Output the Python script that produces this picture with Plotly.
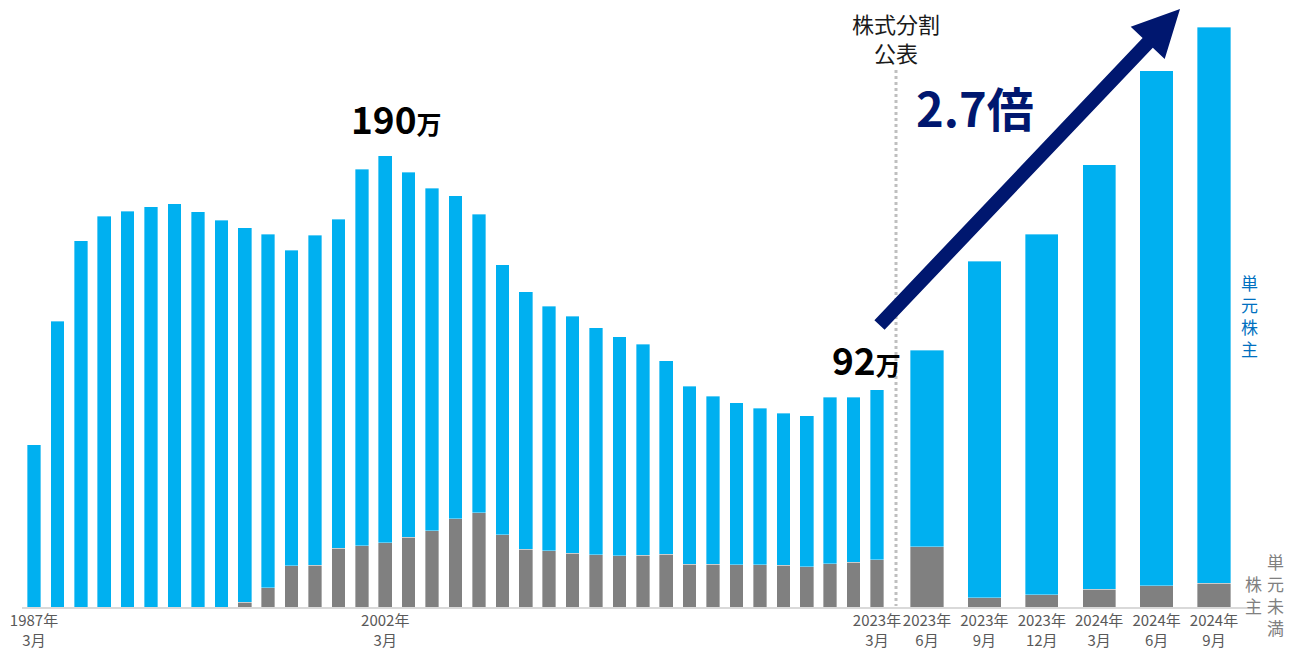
import plotly.graph_objects as go

# ---- data (values in 万人) ----
annual_labels = [f"{y}年3月" for y in range(1987, 2024)]
annual_unit = [68.3, 120.4, 154.1, 164.5, 166.6, 168.5, 169.8, 166.3, 162.9, 157.6,
               148.9, 133.0, 138.9, 138.5, 158.5, 162.9, 153.8, 144.2, 136.0, 125.6,
               113.7, 108.4, 103.1, 99.8, 95.6, 92.1, 88.8, 81.4, 75.0, 70.7,
               68.2, 65.9, 63.9, 63.5, 70.2, 69.5, 71.5]
annual_sub = [0, 0, 0, 0, 0, 0, 0, 0, 0, 2.0,
              8.1, 17.3, 17.6, 24.7, 25.8, 27.1, 29.3, 32.1, 37.2, 39.7,
              30.4, 24.3, 23.6, 22.7, 21.9, 21.6, 21.8, 22.2, 18.0, 18.0,
              17.8, 17.8, 17.6, 17.0, 18.2, 18.8, 19.9]

recent_labels = ["2023年6月", "2023年9月", "2023年12月", "2024年3月", "2024年6月", "2024年9月"]
recent_unit = [82.8, 141.7, 151.9, 178.6, 216.7, 234.1]
recent_sub = [25.4, 3.8, 5.1, 7.5, 9.0, 10.0]

annual_ticks = ["1987年3月", "2002年3月", "2023年3月"]
annual_ticktext = ["1987年<br>3月", "2002年<br>3月", "2023年<br>3月"]
recent_ticktext = ["2023年<br>6月", "2023年<br>9月", "2023年<br>12月", "2024年<br>3月", "2024年<br>6月", "2024年<br>9月"]

BLUE = "#00B0F0"
GRAY = "#808080"
NAVY = "#00176F"
FONT = "Noto Sans CJK JP"
W, H = 1311, 650

edge = dict(width=0.6, color="rgba(255,255,255,0.6)")

fig = go.Figure()
fig.add_trace(go.Bar(x=annual_labels, y=annual_sub, marker=dict(color=GRAY, line=edge),
                     xaxis="x", yaxis="y", name="単元未満株主"))
fig.add_trace(go.Bar(x=annual_labels, y=annual_unit, marker=dict(color=BLUE, line=edge),
                     xaxis="x", yaxis="y", name="単元株主"))
fig.add_trace(go.Bar(x=recent_labels, y=recent_sub, marker=dict(color=GRAY, line=edge),
                     xaxis="x2", yaxis="y2", name="単元未満株主"))
fig.add_trace(go.Bar(x=recent_labels, y=recent_unit, marker=dict(color=BLUE, line=edge),
                     xaxis="x2", yaxis="y2", name="単元株主"))

def px(x):
    return x / W

def py(y):
    return 1 - y / H

base_px = 607
ytop = base_px * 190 / 451.3
ydom = [(H - base_px) / H, 1]

tickfont = dict(family=FONT, size=15, color="#595959")
fig.update_layout(
    width=W, height=H,
    margin=dict(l=0, r=0, t=0, b=0, pad=0),
    paper_bgcolor="white", plot_bgcolor="white",
    barmode="stack", bargap=0.42,
    showlegend=False,
    font=dict(family=FONT),
    xaxis=dict(domain=[px(22.3), px(888.7)], type="category", tickvals=annual_ticks,
               ticktext=annual_ticktext, tickfont=tickfont, showgrid=False,
               zeroline=False, showline=False, ticks="", automargin=False,
               ticklabelstandoff=3),
    xaxis2=dict(domain=[px(898.3), px(1242.7)], type="category", tickvals=recent_labels,
                ticktext=recent_ticktext, tickfont=tickfont, showgrid=False,
                zeroline=False, showline=False, ticks="", anchor="y2", automargin=False,
                ticklabelstandoff=3),
    yaxis=dict(domain=ydom, range=[0, ytop], visible=False, automargin=False),
    yaxis2=dict(domain=ydom, range=[0, ytop], visible=False, anchor="x2", matches="y",
                automargin=False),
)

shapes = []
# baseline
shapes.append(dict(type="line", xref="paper", yref="paper", x0=px(22), x1=px(1260),
                   y0=py(608), y1=py(608), line=dict(color="#D9D9D9", width=2)))
# dotted separator
shapes.append(dict(type="line", xref="paper", yref="paper", x0=px(896), x1=px(896),
                   y0=py(70), y1=py(606), line=dict(color="#BFBFBF", width=3, dash="dot")))
# arrow polygon
pts = [(874.4, 320.2), (1142.6, 38.1), (1130.7, 26.8), (1180, 9), (1164.7, 59.0),
       (1152.8, 47.7), (884.6, 329.8)]
path = "M " + " L ".join(f"{px(x):.5f},{py(y):.5f}" for x, y in pts) + " Z"
shapes.append(dict(type="path", xref="paper", yref="paper", path=path,
                   fillcolor=NAVY, line=dict(width=0)))
fig.update_layout(shapes=shapes)

def note(x, y, text, size, color, **kw):
    d = dict(x=px(x), y=py(y), xref="paper", yref="paper", showarrow=False,
             xanchor="center", yanchor="middle", text=text,
             font=dict(family=FONT, size=size, color=color))
    d.update(kw)
    return d

ann = []
ann.append(note(396, 118, "<b>190<span style='font-size:25px'>万</span></b>", 37, "black"))
ann.append(note(866, 359, "<b>92<span style='font-size:25px'>万</span></b>", 37, "black"))
ann.append(note(975, 106, "<b>2.7倍</b>", 47, NAVY))
ann.append(note(896, 37, "株式分割<br>公表", 22, "#1a1a1a"))
# vertical series labels (one character per line)
ann.append(note(1249, 315, "単<br>元<br>株<br>主", 17, "#0070C0", borderpad=0))
ann.append(note(1275, 594, "単<br>元<br>未<br>満", 17, "#808080", borderpad=0))
ann.append(note(1253, 594, "株<br>主", 17, "#808080", borderpad=0))
fig.update_layout(annotations=ann)

fig.write_html("out.html", config={"displayModeBar": False},
               post_script="document.body.style.margin='0';")
